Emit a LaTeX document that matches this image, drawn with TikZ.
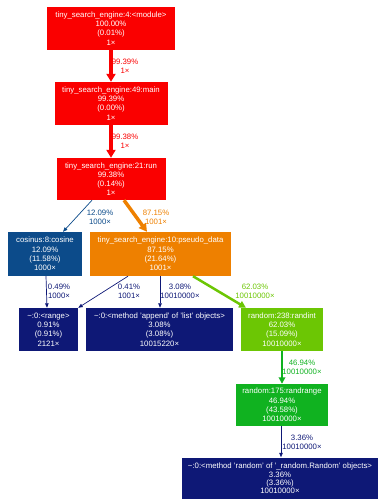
\documentclass[tikz,border=0pt]{standalone}
\usepackage{fontspec}
\setmainfont{Liberation Sans}
\usetikzlibrary{arrows.meta}
\definecolor{cred}{RGB}{250,0,0}
\definecolor{cblue}{RGB}{12,75,138}
\definecolor{corange}{RGB}{238,128,0}
\definecolor{cnavy}{RGB}{14,24,118}
\definecolor{clgreen}{RGB}{108,198,4}
\definecolor{cgreen}{RGB}{16,178,32}
\tikzset{
  fn/.style={rectangle, inner sep=0pt, text=white, align=center,
    font=\fontsize{7.8}{9.2}\selectfont},
  lbl/.style={inner sep=0pt, align=center, font=\fontsize{7.8}{9.2}\selectfont},
  thinedge/.style={line width=0.7pt, -{Triangle[length=4.5pt,width=3.5pt]}},
  bigedge/.style={line width=4pt, -{Triangle[length=8pt,width=9pt]}},
}
\begin{document}
\begin{tikzpicture}[x=1pt,y=-1pt]
\useasboundingbox (0,0) rectangle (378,499);
% nodes
\node[fn, fill=cred, minimum width=128pt, minimum height=43pt] (module) at (111,28.5)
  {tiny\_search\_engine:4:<module>\\100.00\%\\(0.01\%)\\1×};
\node[fn, fill=cred, minimum width=113pt, minimum height=43pt] (main) at (111,103.5)
  {tiny\_search\_engine:49:main\\99.39\%\\(0.00\%)\\1×};
\node[fn, fill=cred, minimum width=109pt, minimum height=42pt] (run) at (111,179)
  {tiny\_search\_engine:21:run\\99.38\%\\(0.14\%)\\1×};
\node[fn, fill=cblue, minimum width=74pt, minimum height=44pt] (cosine) at (45,254)
  {cosinus:8:cosine\\12.09\%\\(11.58\%)\\1000×};
\node[fn, fill=corange, minimum width=141pt, minimum height=44pt] (pseudo) at (160.5,254)
  {tiny\_search\_engine:10:pseudo\_data\\87.15\%\\(21.64\%)\\1001×};
\node[fn, fill=cnavy, minimum width=59pt, minimum height=43pt] (range) at (48.5,329.5)
  {\textasciitilde:0:<range>\\0.91\%\\(0.91\%)\\2121×};
\node[fn, fill=cnavy, minimum width=147pt, minimum height=43pt] (append) at (159.5,329.5)
  {\textasciitilde:0:<method 'append' of 'list' objects>\\3.08\%\\(3.08\%)\\10015220×};
\node[fn, fill=clgreen, minimum width=82pt, minimum height=43pt] (randint) at (282,329.5)
  {random:238:randint\\62.03\%\\(15.09\%)\\10010000×};
\node[fn, fill=cgreen, minimum width=92pt, minimum height=42pt] (randrange) at (282,405)
  {random:175:randrange\\46.94\%\\(43.58\%)\\10010000×};
\node[fn, fill=cnavy, minimum width=196pt, minimum height=42pt,
  font=\fontsize{7.8}{8.2}\selectfont] (random) at (280,478.5)
  {\textasciitilde:0:<method 'random' of '\_random.Random' objects>\\3.36\%\\(3.36\%)\\10010000×};
% edges
\draw[cred, bigedge] (module) -- (main);
\draw[cred, bigedge] (main) -- (run);
\draw[cblue, thinedge] ([xshift=-19pt]run.south) -- ([xshift=18pt]cosine.north);
\draw[corange, line width=3.5pt, -{Triangle[length=8pt,width=8.5pt]}]
  ([xshift=13pt]run.south) -- ([xshift=-13.5pt]pseudo.north);
\draw[cnavy, thinedge] ([xshift=1pt]cosine.south) -- ([xshift=-1.5pt]range.north);
\draw[cnavy, thinedge] ([xshift=-32.5pt]pseudo.south) -- (range.north east);
\draw[cnavy, thinedge] ([xshift=-0.5pt]pseudo.south) -- ([xshift=0.5pt]append.north);
\draw[clgreen, line width=2.5pt, -{Triangle[length=7pt,width=7pt]}]
  ([xshift=32.5pt]pseudo.south) -- ([xshift=-36pt]randint.north);
\draw[cgreen, line width=2pt, -{Triangle[length=6.5pt,width=6.5pt]}]
  (randint) -- (randrange);
\draw[cnavy, thinedge] ([xshift=-1pt]randrange.south) -- ([xshift=1pt]random.north);
% edge labels
\node[lbl, text=cred] (l1) at (125,66) {99.39\%\\1×};
\node[lbl, text=cred] (l2) at (125,141) {99.38\%\\1×};
\node[lbl, text=cblue] (l3) at (100,217) {12.09\%\\1000×};
\node[lbl, text=corange] (l4) at (156,217) {87.15\%\\1001×};
\node[lbl, text=cnavy] (l5) at (59,291) {0.49\%\\1000×};
\node[lbl, text=cnavy] (l6) at (129,291) {0.41\%\\1001×};
\node[lbl, text=cnavy] (l7) at (180,291) {3.08\%\\10010000×};
\node[lbl, text=clgreen] (l8) at (255,291) {62.03\%\\10010000×};
\node[lbl, text=cgreen] (l9) at (302,367) {46.94\%\\10010000×};
\node[lbl, text=cnavy] (l10) at (302,442) {3.36\%\\10010000×};
\end{tikzpicture}
\end{document}
